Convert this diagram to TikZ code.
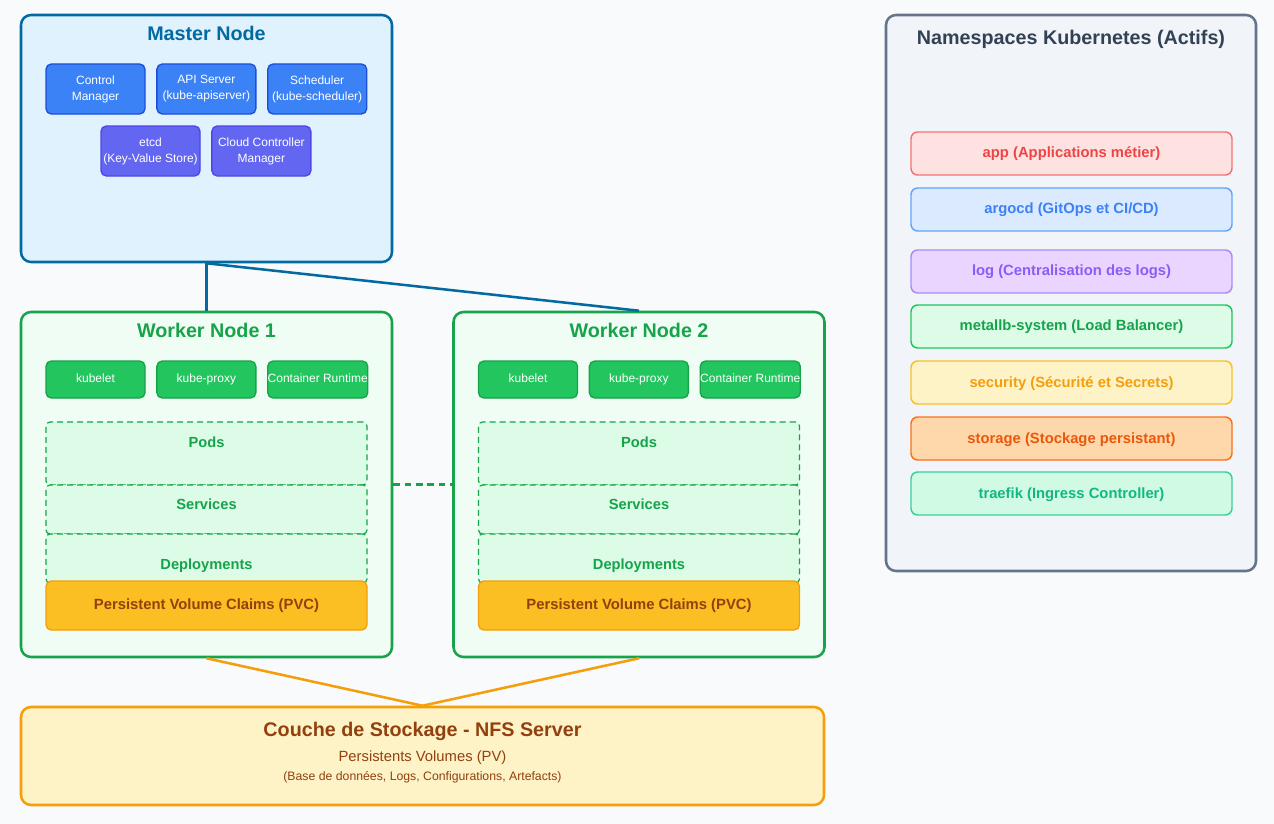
\documentclass[tikz,border=0pt]{standalone}
\usepackage{fontspec}
\setmainfont{Liberation Sans}
\usetikzlibrary{positioning}
\usetikzlibrary{calc, shapes, backgrounds}

\definecolor{pagebg}{HTML}{F8FAFC}
\definecolor{masterfill}{HTML}{E0F2FE}
\definecolor{masterline}{HTML}{0369A1}
\definecolor{ctrlfill}{HTML}{3B82F6}
\definecolor{ctrlline}{HTML}{1D4ED8}
\definecolor{etcdfill}{HTML}{6366F1}
\definecolor{etcdline}{HTML}{4F46E5}
\definecolor{workerfill}{HTML}{F0FDF4}
\definecolor{workerline}{HTML}{16A34A}
\definecolor{compfill}{HTML}{22C55E}
\definecolor{podfill}{HTML}{DCFCE7}
\definecolor{pvcfill}{HTML}{FBBF24}
\definecolor{pvcline}{HTML}{F59E0B}
\definecolor{brown}{HTML}{92400E}
\definecolor{nfsfill}{HTML}{FEF3C7}
\definecolor{nsfill}{HTML}{F1F5F9}
\definecolor{nsline}{HTML}{64748B}
\definecolor{nstext}{HTML}{334155}

\begin{document}
\begin{tikzpicture}[x=0.75pt,y=-0.75pt]
\tikzstyle{big node}=[rectangle,rounded corners=7.5pt,line width=1.9pt,inner sep=0]
\tikzstyle{master node}=[big node,draw=masterline,fill=masterfill,minimum width=278.25pt,minimum height=185.25pt]
\tikzstyle{worker node}=[big node,draw=workerline,fill=workerfill,minimum width=278.25pt,minimum height=258.75pt]
\tikzstyle{ctrl node}=[rectangle,rounded corners=4pt,line width=1pt,draw=ctrlline,fill=ctrlfill,text=white,
  minimum width=74.25pt,minimum height=37.5pt,inner sep=0,align=center,font=\fontsize{9}{12}\selectfont]
\tikzstyle{etcd node}=[ctrl node,draw=etcdline,fill=etcdfill]
\tikzstyle{comp node}=[ctrl node,draw=workerline,fill=compfill,minimum height=27.75pt,text height=6.8pt,text depth=2.2pt]
\tikzset{
  title/.style = {font=\fontsize{14.8}{17}\selectfont\bfseries},
  pod box/.style = {rectangle,rounded corners=3pt,draw=workerline,fill=podfill,line width=0.9pt,
    dash pattern=on 4.5pt off 3pt,minimum width=240.75pt,inner sep=0},
  pod text/.style = {text=workerline,font=\fontsize{11}{13}\selectfont\bfseries},
  pvc node/.style = {rectangle,rounded corners=4pt,draw=pvcline,fill=pvcfill,line width=1pt,
    minimum width=240.75pt,minimum height=36.75pt,inner sep=0,text=brown,font=\fontsize{11.1}{13}\selectfont\bfseries},
  ns node/.style = {rectangle,rounded corners=5pt,line width=1.1pt,minimum width=240.75pt,minimum height=32.25pt,
    inner sep=0,font=\fontsize{11.1}{13}\selectfont\bfseries},
  blue link/.style = {draw=masterline,line width=1.9pt},
  green link/.style = {draw=workerline,line width=1.9pt,dash pattern=on 5pt off 3.5pt},
  orange link/.style = {draw=pvcline,line width=1.9pt}
}

\fill[pagebg] (0,0) rectangle (1274,824);
\useasboundingbox (0,0) rectangle (1274,824);

% master
\node[master node] (master) at (206.5,138.5) {};
\node[title,text=masterline] (mtitle) at (206.5,33) {Master Node};
\node[ctrl node] (cm) at (95.5,89) {Control\\Manager};
\node[ctrl node] (api) [right=7.9pt of cm] {API Server\\(kube-apiserver)};
\node[ctrl node] (sched) [right=7.9pt of api] {Scheduler\\(kube-scheduler)};
\node[etcd node] (etcd) at (150.5,151) {etcd\\(Key-Value Store)};
\node[etcd node] (ccm) [right=7.9pt of etcd] {Cloud Controller\\Manager};

% worker 1
\node[worker node] (w1) at (206.5,484.5) {};
\node[title,text=workerline] (w1title) at (206.5,330) {Worker Node 1};
\node[comp node] (kubelet1) at (95.5,379.5) {kubelet};
\node[comp node] (proxy1) [right=7.9pt of kubelet1] {kube-proxy};
\node[comp node] (cr1) [right=7.9pt of proxy1] {Container Runtime};
\node[pod box,minimum height=47.25pt] (pods1) at (206.5,453.5) {};
\node[pod box,minimum height=36.75pt] (svc1) at (206.5,509.5) {};
\node[pod box,minimum height=36.75pt] (dep1) at (206.5,558.5) {};
\node[pod text] (pods1t) at (206.5,442) {Pods};
\node[pod text] (svc1t) at (206.5,504) {Services};
\node[pod text] (dep1t) at (206.5,566) {Deployments};
\node[pvc node] (pvc1) at (206.5,605.5) {Persistent Volume Claims (PVC)};

% worker 2
\node[worker node] (w2) at (639,484.5) {};
\node[title,text=workerline] (w2title) at (639,330) {Worker Node 2};
\node[comp node] (kubelet2) at (528,379.5) {kubelet};
\node[comp node] (proxy2) [right=7.9pt of kubelet2] {kube-proxy};
\node[comp node] (cr2) [right=7.9pt of proxy2] {Container Runtime};
\node[pod box,minimum height=47.25pt] (pods2) at (639,453.5) {};
\node[pod box,minimum height=36.75pt] (svc2) at (639,509.5) {};
\node[pod box,minimum height=36.75pt] (dep2) at (639,558.5) {};
\node[pod text] (pods2t) at (639,442) {Pods};
\node[pod text] (svc2t) at (639,504) {Services};
\node[pod text] (dep2t) at (639,566) {Deployments};
\node[pvc node] (pvc2) at (639,605.5) {Persistent Volume Claims (PVC)};

% storage
\node[big node,draw=pvcline,fill=nfsfill,minimum width=602.25pt,minimum height=73.5pt] (nfs) at (422.5,756) {};
\node[title,text=brown] (nfstitle) at (422.5,731) {Couche de Stockage - NFS Server};
\node[text=brown,font=\fontsize{11.1}{13}\selectfont] (pv) at (422.5,758) {Persistents Volumes (PV)};
\node[text=brown,font=\fontsize{9.2}{11}\selectfont] (pvdata) at (422.5,777) {(Base de données, Logs, Configurations, Artefacts)};

% namespaces
\node[big node,draw=nsline,fill=nsfill,minimum width=277.5pt,minimum height=417pt] (ns) at (1071,293) {};
\node[title,text=nstext] (nstitle) at (1071,39) {Namespaces Kubernetes (Actifs)};
\node[ns node,draw={rgb,255:red,248;green,113;blue,113},fill={rgb,255:red,254;green,226;blue,226},text={rgb,255:red,239;green,68;blue,68}] (app) at (1071.5,153.5) {app (Applications métier)};
\node[ns node,draw={rgb,255:red,96;green,165;blue,250},fill={rgb,255:red,219;green,234;blue,254},text={rgb,255:red,59;green,130;blue,246}] (argocd) at (1071.5,209.5) {argocd (GitOps et CI/CD)};
\node[ns node,draw={rgb,255:red,167;green,139;blue,250},fill={rgb,255:red,233;green,213;blue,255},text={rgb,255:red,139;green,92;blue,246}] (log) at (1071.5,271.5) {log (Centralisation des logs)};
\node[ns node,draw={rgb,255:red,34;green,197;blue,94},fill={rgb,255:red,220;green,252;blue,231},text={rgb,255:red,22;green,163;blue,74}] (metallb) at (1071.5,326.5) {metallb-system (Load Balancer)};
\node[ns node,draw={rgb,255:red,251;green,191;blue,36},fill={rgb,255:red,254;green,243;blue,199},text={rgb,255:red,245;green,158;blue,11},text depth=-4pt] (security) at (1071.5,382.5) {security (Sécurité et Secrets)};
\node[ns node,draw={rgb,255:red,249;green,115;blue,22},fill={rgb,255:red,254;green,215;blue,170},text={rgb,255:red,234;green,88;blue,12},text depth=-3pt] (storage) at (1071.5,438.5) {storage (Stockage persistant)};
\node[ns node,draw={rgb,255:red,52;green,211;blue,153},fill={rgb,255:red,209;green,250;blue,229},text={rgb,255:red,16;green,185;blue,129},text depth=-3pt] (traefik) at (1071.5,493.5) {traefik (Ingress Controller)};

\path
  (master.south) edge[blue link] (w1.north)
  (master.south) edge[blue link] (w2.north)
  (w1.east) edge[green link] (w2.west)
  (w1.south) edge[orange link] (nfs.north)
  (w2.south) edge[orange link] (nfs.north)
;
\end{tikzpicture}
\end{document}
